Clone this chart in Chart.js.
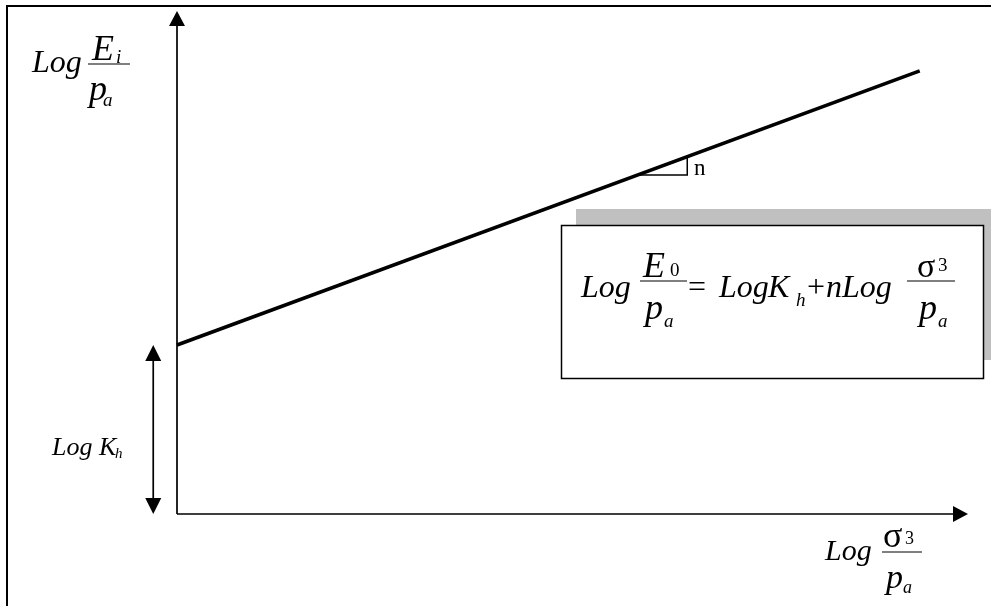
<!DOCTYPE html>
<html lang="en">
<head>
    <meta charset="UTF-8">
    <title>Log E vs Log sigma3</title>
    <script src="https://cdn.jsdelivr.net/npm/chart.js"></script>
    <style>
        body { margin: 0; background: #fff; }
        #wrap { width: 991px; height: 606px; position: relative; }
    </style>
</head>
<body>
    <div id="wrap"><canvas id="logChart"></canvas></div>

    <script>
        // Straight line Log(E/pa) = Log Kh + n Log(sigma3/pa), schematic units
        const lineX = [0, 10];
        const lineY = [3.36, 8.81];

        // little slope triangle under the line
        const triX = [6.21, 6.87, 6.87];
        const triY = [6.74, 6.74, 7.10];

        const serif = '"Liberation Serif", "Times New Roman", serif';

        function txt(ctx, s, x, y, size, italic) {
            ctx.font = (italic === false ? '' : 'italic ') + size + 'px ' + serif;
            ctx.fillText(s, x, y);
        }

        function hline(ctx, x1, x2, y, w) {
            ctx.lineWidth = w;
            ctx.beginPath();
            ctx.moveTo(x1, y);
            ctx.lineTo(x2, y);
            ctx.stroke();
        }

        function arrowHead(ctx, tx, ty, dir, len, half) {
            // dir: 'up', 'down', 'right'
            ctx.beginPath();
            ctx.moveTo(tx, ty);
            if (dir === 'up') {
                ctx.lineTo(tx - half, ty + len);
                ctx.lineTo(tx + half, ty + len);
            } else if (dir === 'down') {
                ctx.lineTo(tx - half, ty - len);
                ctx.lineTo(tx + half, ty - len);
            } else {
                ctx.lineTo(tx - len, ty - half);
                ctx.lineTo(tx - len, ty + half);
            }
            ctx.closePath();
            ctx.fill();
        }

        const diagram = {
            id: 'diagram',
            afterDraw(chart) {
                const ctx = chart.ctx;
                const xs = chart.scales.x, ys = chart.scales.y;
                const area = chart.chartArea;
                const x0 = xs.getPixelForValue(0);
                const y0 = ys.getPixelForValue(0);

                ctx.save();
                ctx.strokeStyle = '#000';
                ctx.fillStyle = '#000';
                ctx.textBaseline = 'alphabetic';

                // frame (top and left edges only)
                hline(ctx, 6, chart.width, 6, 2);
                ctx.beginPath();
                ctx.moveTo(7, 5);
                ctx.lineTo(7, chart.height);
                ctx.stroke();

                // axes with arrows
                ctx.lineWidth = 1.7;
                ctx.beginPath();
                ctx.moveTo(x0, y0);
                ctx.lineTo(x0, area.top + 12);
                ctx.moveTo(x0, y0);
                ctx.lineTo(area.right - 12, y0);
                ctx.stroke();
                arrowHead(ctx, x0, area.top, 'up', 15, 8);
                arrowHead(ctx, area.right, y0, 'right', 15, 8);

                // double arrow marking the intercept Log Kh
                const kx = xs.getPixelForValue(-0.32);
                const kTop = ys.getPixelForValue(lineY[0]);
                ctx.beginPath();
                ctx.moveTo(kx, kTop + 12);
                ctx.lineTo(kx, y0 - 12);
                ctx.stroke();
                arrowHead(ctx, kx, kTop, 'up', 16, 8);
                arrowHead(ctx, kx, y0, 'down', 16, 8);
                txt(ctx, 'Log K', 52, 455, 26);
                txt(ctx, 'h', 115, 458, 15);

                // y axis title  Log Ei/pa
                txt(ctx, 'Log', 32, 72, 32);
                hline(ctx, 88, 130, 64, 1);
                txt(ctx, 'E', 92, 60, 36);
                txt(ctx, 'i', 116, 63, 19);
                txt(ctx, 'p', 89, 100, 36);
                txt(ctx, 'a', 103, 106, 19);

                // x axis title  Log sigma3/pa
                txt(ctx, 'Log', 825, 560, 30);
                hline(ctx, 882, 922, 552, 1);
                txt(ctx, 'σ', 883, 547, 36, false);
                txt(ctx, '3', 905, 544, 18, false);
                txt(ctx, 'p', 886, 588, 34);
                txt(ctx, 'a', 903, 593, 18);

                // slope label
                txt(ctx, 'n', 694, 175, 23, false);

                // equation box with grey shadow
                ctx.fillStyle = '#c0c0c0';
                ctx.fillRect(576, 209, chart.width - 576, 151);
                ctx.fillStyle = '#fff';
                ctx.fillRect(561, 225, 422, 153);
                ctx.lineWidth = 1.5;
                ctx.strokeRect(561.5, 225.5, 422, 153);

                ctx.fillStyle = '#000';
                txt(ctx, 'Log', 581, 297, 32);
                hline(ctx, 640, 687, 281, 1);
                txt(ctx, 'E', 643, 277, 36);
                txt(ctx, '0', 670, 276, 19, false);
                txt(ctx, 'p', 645, 319, 36);
                txt(ctx, 'a', 664, 327, 19);
                txt(ctx, '=', 688, 297, 32, false);
                txt(ctx, 'Log', 719, 297, 32);
                txt(ctx, 'K', 768, 297, 32);
                txt(ctx, 'h', 796, 306, 19);
                txt(ctx, '+', 807, 297, 32, false);
                txt(ctx, 'nLog', 826, 297, 32);
                hline(ctx, 907, 955, 281, 1);
                txt(ctx, 'σ', 917, 277, 34, false);
                txt(ctx, '3', 938, 271, 19, false);
                txt(ctx, 'p', 919, 319, 36);
                txt(ctx, 'a', 938, 327, 19);

                ctx.restore();
            }
        };

        new Chart(document.getElementById('logChart'), {
            type: 'scatter',
            data: {
                datasets: [{
                    data: lineX.map((x, i) => ({ x: x, y: lineY[i] })),
                    showLine: true,
                    borderColor: '#000',
                    borderWidth: 3.6,
                    pointRadius: 0,
                    clip: false
                }, {
                    data: triX.map((x, i) => ({ x: x, y: triY[i] })),
                    showLine: true,
                    borderColor: '#000',
                    borderWidth: 1.5,
                    pointRadius: 0,
                    clip: false
                }]
            },
            options: {
                responsive: true,
                maintainAspectRatio: false,
                animation: false,
                events: [],
                layout: { padding: { left: 177, right: 23, top: 11, bottom: 92 } },
                scales: {
                    x: { type: 'linear', min: 0, max: 10.65, display: false },
                    y: { type: 'linear', min: 0, max: 10, display: false }
                },
                plugins: {
                    legend: { display: false },
                    tooltip: { enabled: false }
                }
            },
            plugins: [diagram]
        });
    </script>
</body>
</html>
